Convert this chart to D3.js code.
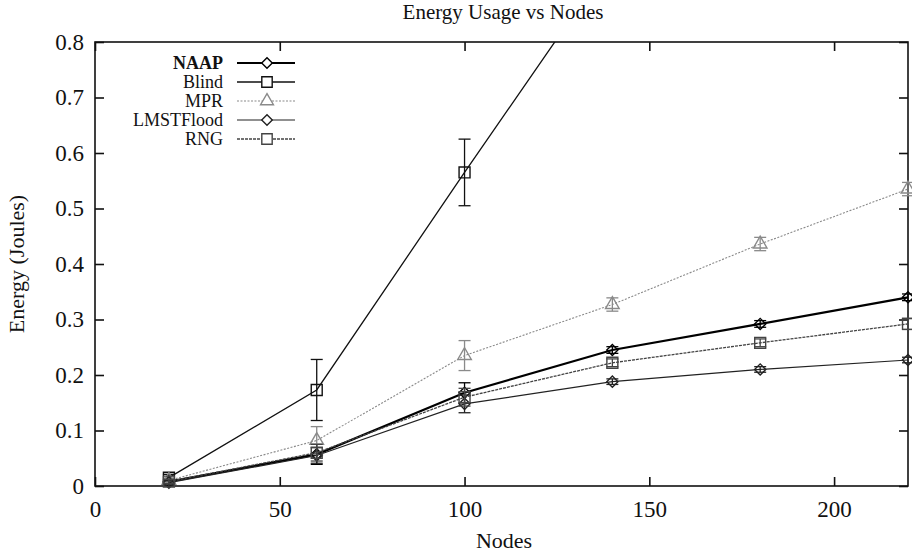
<!DOCTYPE html>
<html lang="en">
<head>
<meta charset="UTF-8">
<title>Energy Usage vs Nodes</title>
<style>
  body { margin: 0; background: #fff; }
  text { font-family: "Liberation Serif", "DejaVu Serif", serif; fill: #111; }
</style>
</head>
<body>
<div id="chart"></div>
<script src="https://d3js.org/d3.v7.min.js"></script>
<script>
// data
var nodes = [20, 60, 100, 140, 180, 220];
var naap      = [0.008, 0.057, 0.168, 0.245, 0.292, 0.340];
var naapErr   = [0.004, 0.018, 0.018, 0.006, 0.006, 0.006];
var blind     = [0.015, 0.173, 0.565, 0.95];
var blindErr  = [0.006, 0.055, 0.060, 0.0];
var mpr       = [0.010, 0.082, 0.235, 0.327, 0.436, 0.535];
var mprErr    = [0.004, 0.025, 0.027, 0.012, 0.012, 0.012];
var lmst      = [0.006, 0.055, 0.148, 0.188, 0.210, 0.227];
var lmstErr   = [0.004, 0.014, 0.016, 0.005, 0.005, 0.005];
var rng       = [0.008, 0.060, 0.160, 0.222, 0.258, 0.292];
var rngErr    = [0.004, 0.015, 0.016, 0.007, 0.007, 0.010];
var xTicks = [0, 50, 100, 150, 200];
var yTicks = [0, 0.1, 0.2, 0.3, 0.4, 0.5, 0.6, 0.7, 0.8];

var series = [
  { name: "NAAP",      vals: naap,  err: naapErr,  sym: "diamond",  color: "#000", width: 2.2, dash: null,  bold: true },
  { name: "Blind",     vals: blind, err: blindErr, sym: "square",   color: "#111", width: 1.3, dash: null },
  { name: "MPR",       vals: mpr,   err: mprErr,   sym: "triangle", color: "#8a8a8a", width: 1.1, dash: "2,1.5" },
  { name: "LMSTFlood", vals: lmst,  err: lmstErr,  sym: "diamond",  color: "#222", width: 1.2, dash: null },
  { name: "RNG",       vals: rng,   err: rngErr,   sym: "square",   color: "#444", width: 1.3, dash: "3,1" }
];

function symbolPath(name, k) {
  if (name === "triangle") return d3.symbol().type(d3.symbolTriangle).size(80 * k)();
  return d3.symbol().type(d3.symbolSquare).size((name === "square" ? 120 : 62) * k)();
}
function symbolRot(name) { return name === "diamond" ? " rotate(45)" : ""; }

var margin = { top: 42, right: 4, bottom: 66, left: 95 },
    width = 912 - margin.left - margin.right,
    height = 552 - margin.top - margin.bottom;

var svg = d3.select("#chart").append("svg")
    .attr("width", 912).attr("height", 552);

var g = svg.append("g")
    .attr("transform", "translate(" + margin.left + "," + margin.top + ")");

var x = d3.scaleLinear().domain([0, 220]).range([0, width]);
var y = d3.scaleLinear().domain([0, 0.8]).range([height, 0]);

g.append("clipPath").attr("id", "clip")
  .append("rect").attr("x", -10).attr("y", 0).attr("width", width + 20).attr("height", height + 10);

// axes (ticks pointing inward, mirrored on all sides)
function noDomain(a) {
  a.select(".domain").remove();
  a.attr("font-family", "Liberation Serif, serif").attr("font-size", 23);
}
g.append("g").attr("transform", "translate(0," + height + ")")
  .call(d3.axisBottom(x).tickValues(xTicks).tickSizeInner(-9).tickSizeOuter(0).tickPadding(15))
  .call(noDomain);
g.append("g")
  .call(d3.axisTop(x).tickValues(xTicks).tickSizeInner(-9).tickSizeOuter(0).tickFormat(""))
  .call(noDomain);
g.append("g")
  .call(d3.axisLeft(y).tickValues(yTicks).tickSizeInner(-9).tickSizeOuter(0).tickPadding(11)
    .tickFormat(function (d) { return d === 0 ? "0" : d3.format(".1f")(d); }))
  .call(noDomain);
g.append("g").attr("transform", "translate(" + width + ",0)")
  .call(d3.axisRight(y).tickValues(yTicks).tickSizeInner(-9).tickSizeOuter(0).tickFormat(""))
  .call(noDomain);

g.selectAll(".tick line").attr("stroke", "#111").attr("stroke-width", 1.6);
g.selectAll(".tick text").attr("fill", "#111");

g.append("rect")
  .attr("width", width).attr("height", height)
  .attr("fill", "none").attr("stroke", "#111").attr("stroke-width", 1.6);

// series
var plot = g.append("g").attr("clip-path", "url(#clip)");
var line = d3.line()
  .x(function (d, i) { return x(nodes[i]); })
  .y(function (d) { return y(d); });

series.forEach(function (s) {
  plot.append("path")
    .datum(s.vals)
    .attr("fill", "none")
    .attr("stroke", s.color)
    .attr("stroke-width", s.width)
    .attr("stroke-dasharray", s.dash)
    .attr("d", line);

  var pts = s.vals.map(function (v, i) { return { x: nodes[i], v: v, e: s.err[i] }; })
    .filter(function (p) { return p.v <= 0.8; });

  var eb = plot.append("g").attr("stroke", s.color).attr("stroke-width", 1.3);
  pts.forEach(function (p) {
    if (!p.e) return;
    var cx = x(p.x);
    eb.append("line").attr("x1", cx).attr("x2", cx).attr("y1", y(p.v - p.e)).attr("y2", y(p.v + p.e));
    eb.append("line").attr("x1", cx - 6).attr("x2", cx + 6).attr("y1", y(p.v - p.e)).attr("y2", y(p.v - p.e));
    eb.append("line").attr("x1", cx - 6).attr("x2", cx + 6).attr("y1", y(p.v + p.e)).attr("y2", y(p.v + p.e));
  });

  plot.append("g").selectAll("path")
    .data(pts).enter().append("path")
    .attr("transform", function (p) { return "translate(" + x(p.x) + "," + y(p.v) + ")" + symbolRot(s.sym); })
    .attr("d", symbolPath(s.sym, 1))
    .attr("fill", "none")
    .attr("stroke", s.color)
    .attr("stroke-width", 1.4);
});

// legend
var leg = g.append("g").attr("transform", "translate(0,21)");
series.forEach(function (s, i) {
  var row = leg.append("g").attr("transform", "translate(0," + (i * 19) + ")");
  row.append("text")
    .attr("x", 128).attr("y", 0).attr("dy", "0.35em")
    .attr("text-anchor", "end")
    .style("font-size", "18px")
    .style("font-weight", s.bold ? "bold" : "normal")
    .attr("fill", s.name === "MPR" ? "#888" : "#111")
    .text(s.name);
  row.append("line")
    .attr("x1", 142).attr("x2", 200).attr("y1", 0).attr("y2", 0)
    .attr("stroke", s.color).attr("stroke-width", s.width)
    .attr("stroke-dasharray", s.dash);
  row.append("path")
    .attr("transform", "translate(172,0)" + symbolRot(s.sym))
    .attr("d", symbolPath(s.sym, 0.9))
    .attr("fill", "#fff").attr("stroke", s.color).attr("stroke-width", 1.4);
});

// titles
svg.append("text")
  .attr("x", 503).attr("y", 19)
  .attr("text-anchor", "middle")
  .style("font-size", "21px")
  .text("Energy Usage vs Nodes");

svg.append("text")
  .attr("x", 504).attr("y", 548)
  .attr("text-anchor", "middle")
  .style("font-size", "22px")
  .text("Nodes");

svg.append("text")
  .attr("transform", "translate(24," + (margin.top + height / 2) + ") rotate(-90)")
  .attr("text-anchor", "middle")
  .style("font-size", "22px")
  .text("Energy (Joules)");
</script>
</body>
</html>
